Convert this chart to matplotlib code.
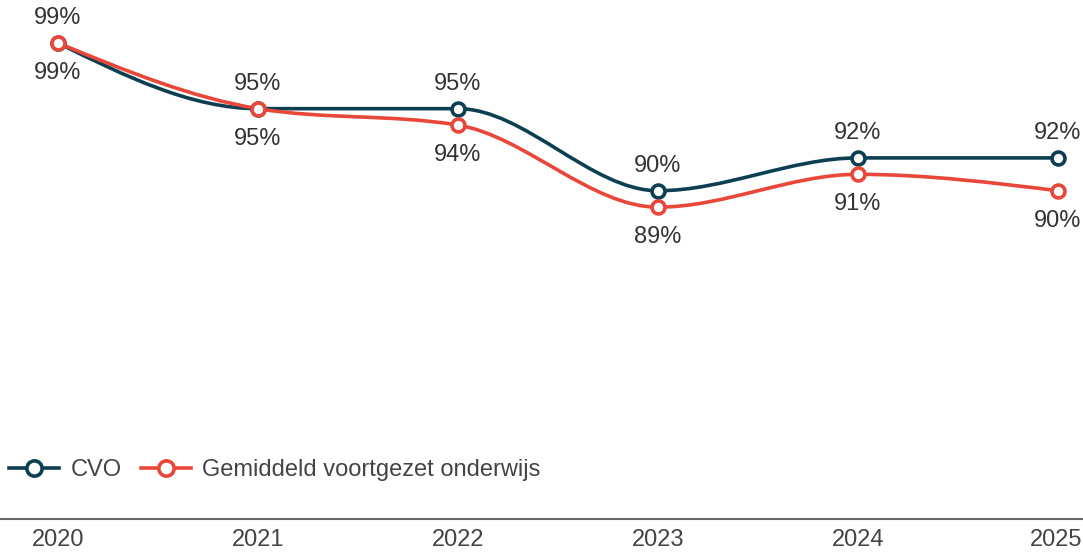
import numpy as np
import matplotlib
matplotlib.use("Agg")
import matplotlib.pyplot as plt
import matplotlib.transforms as mtransforms
from matplotlib.path import Path
from matplotlib.patches import PathPatch
from matplotlib.lines import Line2D

plt.rcParams['font.family'] = ['Liberation Sans', 'DejaVu Sans']

years = [2020, 2021, 2022, 2023, 2024, 2025]
cvo = [99, 95, 95, 90, 92, 92]
vo_avg = [99, 95, 94, 89, 91, 90]
series_names = ["CVO", "Gemiddeld voortgezet onderwijs"]
colors = ["#0d3f52", "#e8473a"]


def monotone_path(xs, ys):
    xs = np.asarray(xs, float)
    ys = np.asarray(ys, float)
    n = len(xs)
    h = np.diff(xs)
    s = np.diff(ys) / h
    t = np.zeros(n)
    for i in range(1, n - 1):
        h0, h1 = h[i - 1], h[i]
        s0, s1 = s[i - 1], s[i]
        p = (s0 * h1 + s1 * h0) / (h0 + h1)
        t[i] = (np.sign(s0) + np.sign(s1)) * min(abs(s0), abs(s1), 0.5 * abs(p))
    t[0] = (3 * s[0] - t[1]) / 2
    t[-1] = (3 * s[-1] - t[-2]) / 2
    verts = [(xs[0], ys[0])]
    codes = [Path.MOVETO]
    for i in range(n - 1):
        dx = (xs[i + 1] - xs[i]) / 3
        verts += [(xs[i] + dx, ys[i] + dx * t[i]),
                  (xs[i + 1] - dx, ys[i + 1] - dx * t[i + 1]),
                  (xs[i + 1], ys[i + 1])]
        codes += [Path.CURVE4] * 3
    return Path(verts, codes)


fig = plt.figure(figsize=(10.83, 5.57), dpi=100)
ax = fig.add_axes([0, 0.0682, 1, 0.9318])
ax.set_xlim(2019.71, 2025.125)
ax.set_ylim(70, 101.62)

for k, (vals, col) in enumerate(zip([cvo, vo_avg], colors)):
    patch = PathPatch(monotone_path(years, vals), facecolor='none', edgecolor=col,
                      lw=2.6, zorder=2 + k, capstyle='round')
    ax.add_patch(patch)
    ax.plot(years, vals, linestyle='none', marker='o', markersize=9.3,
            markerfacecolor='white', markeredgecolor=col, markeredgewidth=2.6,
            zorder=4 + k)

FS = 17
for x, a, b in zip(years, cvo, vo_avg):
    if x == years[-1]:
        ha, xoff = 'right', 16.5
    else:
        ha, xoff = 'center', 0
    ax.annotate(f"{a}%", (x, a), xytext=(xoff, 18), textcoords='offset points',
                ha=ha, va='center', fontsize=FS, color='#333333')
    ax.annotate(f"{b}%", (x, b), xytext=(xoff, -21.5), textcoords='offset points',
                ha=ha, va='center', fontsize=FS, color='#333333')

ax.spines[['left', 'right', 'top']].set_visible(False)
ax.spines['bottom'].set_color('#666666')
ax.spines['bottom'].set_linewidth(1.5)
ax.set_yticks([])
ax.set_xticks(years)
ax.set_xticklabels([str(y) for y in years])
ax.tick_params(axis='x', length=0, pad=7, labelsize=FS, labelcolor='#444444')
last = ax.get_xticklabels()[-1]
last.set_ha('right')
last.set_transform(last.get_transform() +
                   mtransforms.ScaledTranslation(24 / 100, 0, fig.dpi_scale_trans))

handles = [Line2D([], [], color=c, lw=2.6, marker='o', markersize=11,
                  markerfacecolor='white', markeredgecolor=c, markeredgewidth=2.6)
           for c in colors]
fig.legend(handles, series_names, loc='center left', bbox_to_anchor=(0.0, 0.156),
           ncol=2, frameon=False, fontsize=FS, labelcolor='#444444',
           handlelength=2.12, handletextpad=0.47, columnspacing=0.8,
           borderaxespad=0, borderpad=0.4)

fig.savefig("out.png", dpi=100)
